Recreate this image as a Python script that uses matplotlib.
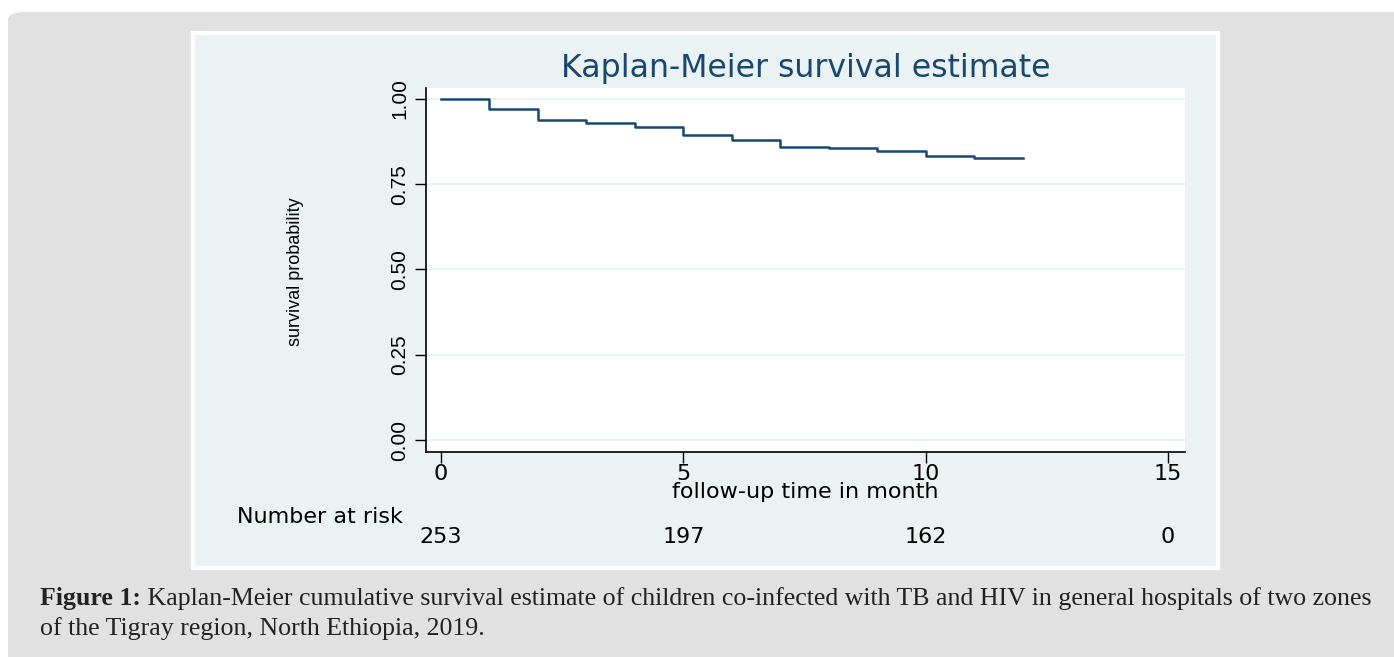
import numpy as np
import matplotlib
matplotlib.use('Agg')
import matplotlib.pyplot as plt
import matplotlib.transforms as mtransforms
from matplotlib.patches import FancyBboxPatch, Rectangle

# survival step values (month, S(t))
months = [0, 1, 2, 3, 4, 5, 6, 7, 8, 9, 10, 11, 12]
surv = [1.000, 0.969, 0.938, 0.930, 0.917, 0.895, 0.879, 0.858, 0.855, 0.848, 0.832, 0.828, 0.828]

risk_times = [0, 5, 10, 15]
risk_counts = ['253', '197', '162', '0']

yticks = [0.0, 0.25, 0.5, 0.75, 1.0]
ytick_labels = ['0.00', '0.25', '0.50', '0.75', '1.00']
xticks = [0, 5, 10, 15]

title = 'Kaplan-Meier survival estimate'
caption_bold = 'Figure 1:'
caption_rest = ' Kaplan-Meier cumulative survival estimate of children co-infected with TB and HIV in general hospitals of two zones'
caption_line2 = 'of the Tigray region, North Ethiopia, 2019.'

W, H = 1394, 657
navy = '#1a476f'
panel = '#eaf2f3'

plt.rcParams['font.family'] = ['DejaVu Sans']

fig = plt.figure(figsize=(W / 100, H / 100), dpi=100)
fig.patch.set_facecolor('white')

def fx(px):
    return px / W

def fy(py):
    return 1 - py / H

# gray rounded background
fig.patches.append(FancyBboxPatch((fx(8), fy(657) - 0.05), fx(1420) - fx(8), fy(12) - fy(657) + 0.05,
                                  boxstyle='round,pad=0,rounding_size=0.012', transform=fig.transFigure,
                                  facecolor='#e1e1e1', edgecolor='none', zorder=0))
# stata panel
fig.patches.append(Rectangle((fx(193), fy(568)), fx(1218) - fx(193), fy(33) - fy(568),
                             transform=fig.transFigure, facecolor=panel, edgecolor='white',
                             linewidth=3, zorder=1))

ax = fig.add_axes([fx(426), fy(452), fx(1185) - fx(426), fy(88) - fy(452)])
ax.set_zorder(2)
ax.set_facecolor('white')

ax.step(months, surv, where='post', color=navy, linewidth=1.8)

ax.set_xlim(-0.31, 15.35)
ax.set_ylim(-0.035, 1.032)
ax.set_yticks(yticks)
ax.set_yticklabels(ytick_labels, rotation=90, va='center', fontsize=15, family='Liberation Sans')
ax.set_xticks(xticks)
ax.set_xticklabels([str(t) for t in xticks], fontsize=16)
ax.tick_params(axis='both', direction='out', length=8, width=1, color='black')
ax.tick_params(axis='x', pad=1)
ax.tick_params(axis='y', pad=4)
ax.grid(axis='y', color=panel, linewidth=1.2)
ax.set_axisbelow(True)
for s in ['top', 'right']:
    ax.spines[s].set_visible(False)
for s in ['left', 'bottom']:
    ax.spines[s].set_linewidth(1.2)

fig.text(fx(805), fy(492), 'follow-up time in month', ha='center', va='center', fontsize=16)
fig.text(fx(296), fy(272), 'survival probability', rotation=90, ha='center', va='center',
         fontsize=13, family='Liberation Sans')
fig.text(fx(806), fy(69), title, ha='center', va='center', fontsize=22.7, color=navy)

# number at risk table
fig.text(fx(237), fy(517), 'Number at risk', ha='left', va='center', fontsize=16)
trans = mtransforms.blended_transform_factory(ax.transData, fig.transFigure)
for t, n in zip(risk_times, risk_counts):
    ax.text(t, fy(537), n, transform=trans, ha='center', va='center', fontsize=16, clip_on=False)

# caption
cap_kw = dict(ha='left', va='center', fontsize=18.6, family='Liberation Serif', color='#222222')
t1 = fig.text(fx(40), fy(599), caption_bold, weight='bold', **cap_kw)
fig.canvas.draw()
bb = t1.get_window_extent()
fig.text(bb.x1 / W, fy(599), caption_rest, **cap_kw)
fig.text(fx(40), fy(629), caption_line2, **cap_kw)

fig.savefig('out.png', dpi=100)
